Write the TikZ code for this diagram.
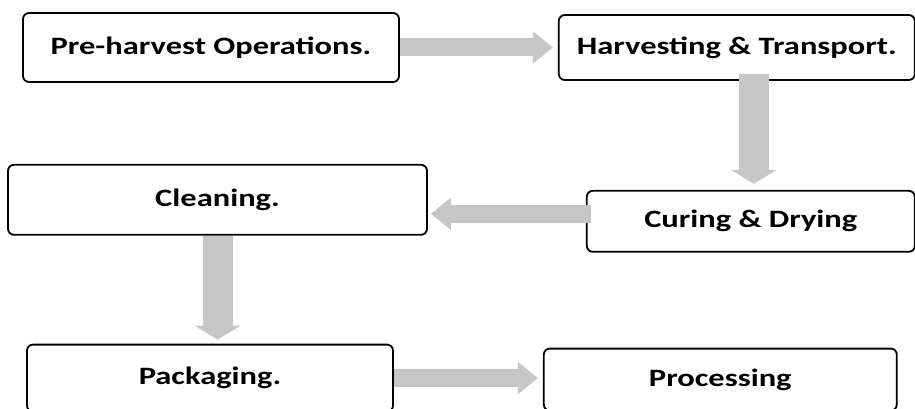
\documentclass[tikz,border=0pt]{standalone}
\usepackage{fontspec}
\newfontfamily\stagefont[FakeStretch=1.3]{Carlito}
\usepackage{tikz}
\usetikzlibrary{shapes,arrows.meta,positioning,calc}
\tikzstyle{stage} = [draw, rectangle, rounded corners=6pt, line width=1.8pt, font=\stagefont\bfseries\fontsize{25}{30}\selectfont, text centered]
\tikzstyle{harrow} = [draw=gray!45, line width=18pt, -{Triangle[length=20pt, width=31pt]}, shorten >=5pt]
\tikzstyle{varrow} = [draw=gray!45, line width=30pt, -{Triangle[length=14pt, width=45pt]}, shorten >=5pt]

\begin{document}
\begin{tikzpicture}[x=1pt, y=1pt, node distance = 158pt]
    \useasboundingbox (0,0) rectangle (915,-409);
    \node [stage, minimum width=376pt, minimum height=69pt] (pre) at (211,-47.5) {Pre-harvest Operations.};
    \node [stage, minimum width=356pt, minimum height=65pt, right=158pt of pre] (harv) {Harvesting \& Transport.};
    \node [stage, minimum width=328pt, minimum height=61pt, below=109pt of harv, xshift=14pt] (cure) {Curing \& Drying};
    \node [stage, minimum width=419pt, minimum height=70pt, left=158pt of cure, yshift=21.5pt] (clean) {Cleaning.};
    \node [stage, minimum width=366pt, minimum height=67pt, below=108pt of clean, xshift=-7.5pt] (pack) {Packaging.};
    \node [stage, minimum width=353pt, minimum height=62pt, right=149pt of pack, yshift=-1.5pt] (proc) {Processing};

    \path [harrow] (pre.east) -- (harv.west);
    \path [varrow, shorten <=-7pt, shorten >=6pt] ([xshift=17pt]harv.south) -- ([xshift=3pt]cure.north);
    \path [harrow, shorten <=-5pt, shorten >=3pt] ([yshift=7.5pt]cure.west) -- ([yshift=-14pt]clean.east);
    \path [varrow, shorten >=4pt] (clean.south) -- (clean.south |- pack.north);
    \path [harrow] (pack.east) -- (pack.east -| proc.west);
\end{tikzpicture}
\end{document}
